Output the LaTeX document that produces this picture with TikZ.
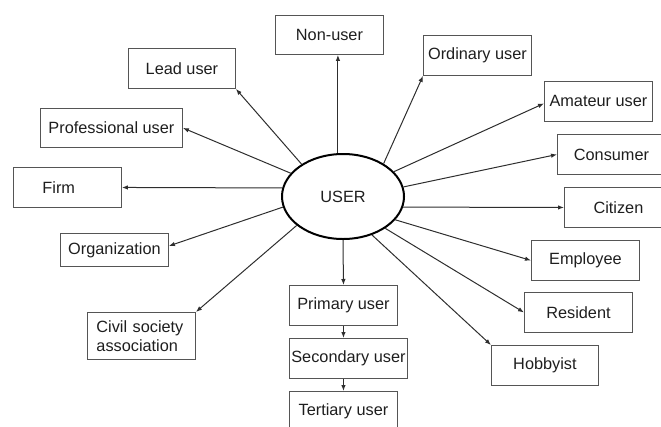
\documentclass[tikz,border=0pt]{standalone}
\usepackage{fontspec}
\setmainfont{Liberation Sans}
\usetikzlibrary{arrows.meta,shapes.geometric,calc}
\definecolor{boxline}{HTML}{555555}
\definecolor{conline}{HTML}{2E2E2E}
\definecolor{txt}{HTML}{1E1E1E}
\begin{document}
\begin{tikzpicture}[x=1pt,y=-1pt,
  every node/.style={font=\fontsize{16.3}{19.5}\selectfont, text=txt},
  ubox/.style={draw=boxline, line width=0.9pt, anchor=north west, inner sep=0pt, minimum width=108pt, minimum height=40pt, align=center},
  hub/.style={draw=black, line width=2pt, ellipse, minimum width=122pt, minimum height=85pt, inner sep=0pt},
  arr/.style={draw=conline, line width=1pt, -{Latex[length=6pt,width=4.5pt]}}
]
\useasboundingbox (0,0) rectangle (661,426);
\clip (0,0) rectangle (661,426);

\node[hub] (user) at (343,196.5) {USER};

\node[ubox, minimum height=39pt] (nonuser) at (275,15) {Non-user};
\node[ubox, minimum width=107pt] (lead) at (128,48) {Lead user};
\node[ubox, minimum width=142pt, minimum height=39pt] (prof) at (40,108) {Professional user};
\node[ubox, text width=50pt, inner xsep=29pt, align=left] (firm) at (13,167) {Firm};
\node[ubox, minimum height=33pt] (org) at (60,233) {Organization};
\node[ubox, minimum height=47pt, text width=90pt, inner xsep=9pt, align=left] (civil) at (87,312) {Civil society\\association};

\node[ubox] (ord) at (423,35) {Ordinary user};
\node[ubox] (amat) at (544,81) {Amateur user};
\node[ubox] (cons) at (557,134) {Consumer};
\node[ubox] (citi) at (564,187) {Citizen};
\node[ubox] (empl) at (531,240) {Employee};
\node[ubox] (resi) at (524,292) {Resident};
\node[ubox, minimum width=107pt] (hobb) at (491,345) {Hobbyist};

\node[ubox] (prim) at (289,285) {Primary user};
\node[ubox, minimum width=118pt] (seco) at (289,338) {Secondary user};
\node[ubox] (tert) at (289,391) {Tertiary user};

\coordinate (nutip) at ([xshift=8.5pt]nonuser.south);
\draw[arr] (user.north -| nutip) -- (nutip);
\draw[arr] (user.142) -- (lead.south east);
\draw[arr] (user.156) -- (prof.east);
\draw[arr] (user.172) -- (firm.east);
\draw[arr] (user.190) -- ([yshift=4pt]org.east);
\draw[arr] (user.212) -- (civil.north east);
\draw[arr] (user.39) -- (ord.south west);
\draw[arr] (user.26) -- ([yshift=-2pt]amat.west);
\draw[arr] (user.9) -- (cons.west);
\draw[arr] (user.350) -- (citi.west);
\draw[arr] (user.336) -- (empl.west);
\draw[arr] (user.323) -- (resi.west);
\draw[arr] (user.307) -- (hobb.north west);
\draw[arr] (user.south) -- (prim.north);
\draw[arr] (prim.south) -- (prim.south |- seco.north);
\draw[arr] (tert.north |- seco.south) -- (tert.north);
\end{tikzpicture}
\end{document}
